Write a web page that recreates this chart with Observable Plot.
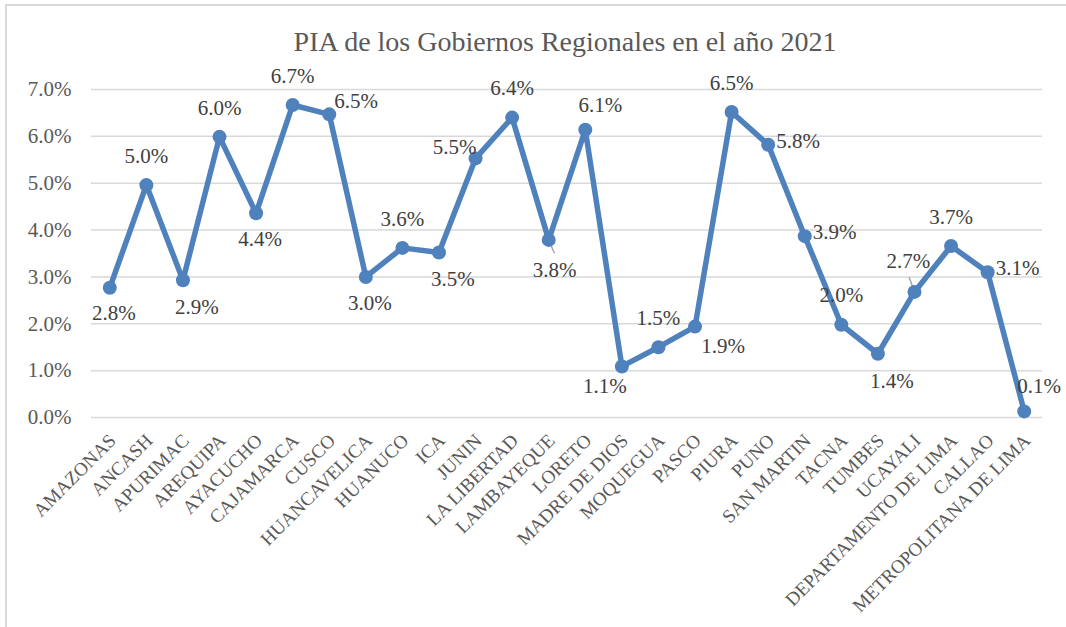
<!DOCTYPE html>
<html>
<head>
<meta charset="utf-8">
<script src="https://cdn.jsdelivr.net/npm/d3@7"></script>
<script src="https://cdn.jsdelivr.net/npm/@observablehq/plot@0.6"></script>
<style>
  body { margin: 0; background: #fff; }
  #wrap { position: relative; width: 1066px; height: 627px; overflow: hidden; font-family: "Liberation Serif", serif; background: #fff; }
  #frame { position: absolute; left: 5px; top: 4px; width: 1200px; height: 800px; border-left: 2px solid #d9d9d9; border-top: 2px solid #d9d9d9; pointer-events: none; }
  #title { height: 60px; box-sizing: border-box; padding-top: 28px; padding-left: 64px; text-align: center; font-size: 28px; line-height: 27px; color: #595959; white-space: nowrap; }
  #chart svg { display: block; }
</style>
</head>
<body>
<div id="wrap">
  <div id="frame"></div>
  <div id="title">PIA de los Gobiernos Regionales en el año 2021</div>
  <div id="chart"></div>
</div>
<script>
// ---- data ----
const regions = [
  "AMAZONAS", "ANCASH", "APURIMAC", "AREQUIPA", "AYACUCHO", "CAJAMARCA", "CUSCO",
  "HUANCAVELICA", "HUANUCO", "ICA", "JUNIN", "LA LIBERTAD", "LAMBAYEQUE", "LORETO",
  "MADRE DE DIOS", "MOQUEGUA", "PASCO", "PIURA", "PUNO", "SAN MARTIN", "TACNA",
  "TUMBES", "UCAYALI", "DEPARTAMENTO DE LIMA", "CALLAO", "METROPOLITANA DE LIMA"
];
const piaShare = [
  0.0277, 0.0496, 0.0293, 0.0599, 0.0436, 0.0667, 0.0647,
  0.0300, 0.0362, 0.0352, 0.0553, 0.0640, 0.0379, 0.0614,
  0.0109, 0.0150, 0.0194, 0.0652, 0.0582, 0.0387, 0.0198,
  0.0136, 0.0268, 0.0366, 0.0310, 0.0013
];
const yTicks = [0, 0.01, 0.02, 0.03, 0.04, 0.05, 0.06, 0.07];

// label placement (style): one name per region
const labelPlacement = [
  "below", "above", "belowRight", "above", "below", "above", "upRight",
  "below", "above", "belowRight", "left", "above", "belowLeader", "aboveRight",
  "belowLeft", "above", "belowFarRight", "above", "right", "right", "above",
  "belowRight", "aboveLeftLeader", "above", "right", "aboveRight"
];

// ---- styles ----
const placementStyle = {
  below:           { dx: 4,   dy: 26 },
  belowLeader:     { dx: 6,   dy: 30, leader: { rotate: 157, length: 14 } },
  belowRight:      { dx: 14,  dy: 27 },
  belowFarRight:   { dx: 28,  dy: 20 },
  belowLeft:       { dx: -17, dy: 20 },
  above:           { dx: 0,   dy: -29 },
  aboveRight:      { dx: 15,  dy: -25 },
  aboveLeftLeader: { dx: -6,  dy: -31, leader: { rotate: -20, length: 15 } },
  left:            { dx: -21, dy: -11 },
  right:           { dx: 8,   dy: -4, textAnchor: "start" },
  upRight:         { dx: 5,   dy: -13, textAnchor: "start" }
};

const lineColor = "#4F81BD";
const fmt = d3.format(".1%");

const data = regions.map((r, i) => ({ region: r, value: piaShare[i], pos: labelPlacement[i] }));

const labelMarks = [];
const leaderMarks = [];
for (const [key, s] of Object.entries(placementStyle)) {
  const subset = data.filter(d => d.pos === key);
  if (!subset.length) continue;
  labelMarks.push(Plot.text(subset, {
    x: "region", y: "value", text: d => fmt(d.value),
    dx: s.dx, dy: s.dy, textAnchor: s.textAnchor || "middle",
    fontSize: 21, fill: "#404040"
  }));
  if (s.leader) {
    leaderMarks.push(Plot.vector(subset, {
      x: "region", y: "value", anchor: "start",
      rotate: s.leader.rotate, length: s.leader.length,
      shape: { draw(context, l) { context.moveTo(0, 0); context.lineTo(0, -l); } },
      stroke: "#a6a6a6", strokeWidth: 1.5
    }));
  }
}

const chart = Plot.plot({
  width: 1066,
  height: 567,
  marginTop: 29,
  marginBottom: 210,
  marginLeft: 91,
  marginRight: 24,
  style: { fontFamily: "'Liberation Serif', serif", background: "transparent", color: "#595959" },
  x: { type: "point", domain: regions, padding: 0.5, round: false, label: null },
  y: { domain: [0, 0.07], label: null },
  marks: [
    Plot.ruleY(yTicks, { stroke: "#d9d9d9", strokeWidth: 1.5 }),
    Plot.axisY({ ticks: yTicks, tickFormat: fmt, tickSize: 0, tickPadding: 20, fontSize: 21, fill: "#595959", label: null }),
    Plot.axisX({ tickRotate: -45, tickSize: 0, tickPadding: 20, dx: 3, fontSize: 19, fill: "#595959", label: null }),
    ...leaderMarks,
    Plot.line(data, { x: "region", y: "value", stroke: lineColor, strokeWidth: 5.5, strokeLinejoin: "round", strokeLinecap: "round" }),
    Plot.dot(data, { x: "region", y: "value", r: 7, fill: lineColor, stroke: "none" }),
    ...labelMarks
  ]
});
document.getElementById("chart").appendChild(chart);
</script>
</body>
</html>
